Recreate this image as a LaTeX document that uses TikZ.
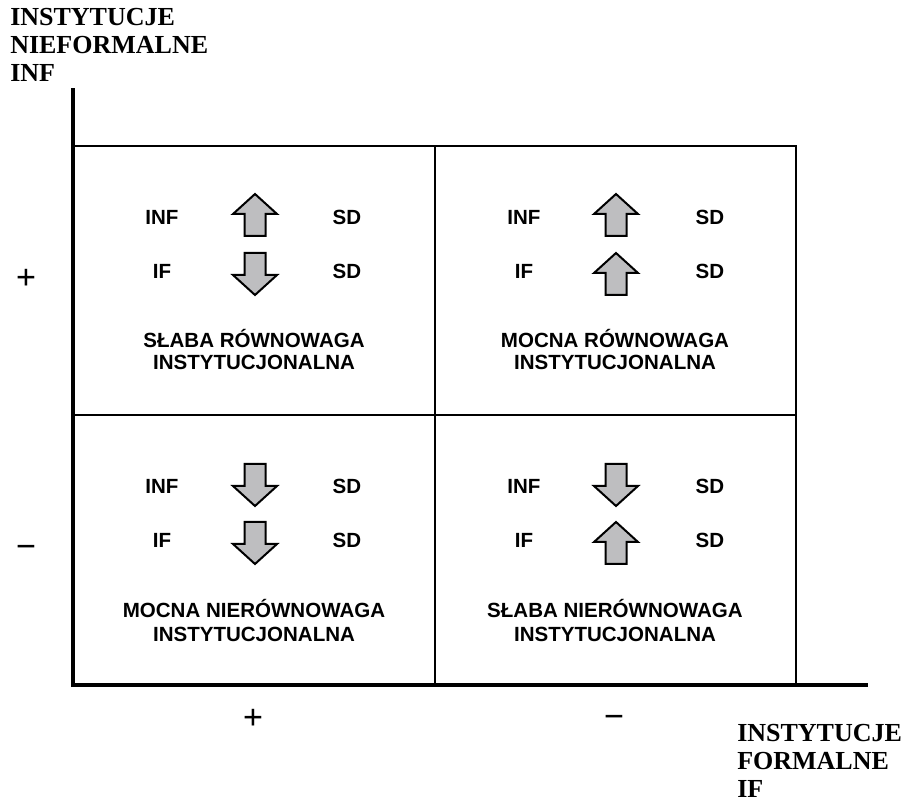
\documentclass[tikz,border=0pt]{standalone}
\usepackage{fontspec}
\setmainfont{Liberation Sans}
\newfontfamily\axisfont{Liberation Serif}

\definecolor{arrowgray}{RGB}{190,190,192}

\tikzset{
  pics/uparr/.style={code={
    \draw[line width=1.5pt, fill=arrowgray]
      (0,-21) -- (22,-1) -- (10.5,-1) -- (10.5,21) -- (-10.5,21) -- (-10.5,-1) -- (-22,-1) -- cycle;}},
  pics/downarr/.style={code={
    \draw[line width=1.5pt, fill=arrowgray]
      (0,21) -- (22,1) -- (10.5,1) -- (10.5,-21) -- (-10.5,-21) -- (-10.5,1) -- (-22,1) -- cycle;}}
}

\begin{document}
\begin{tikzpicture}[x=0.75pt, y=-0.75pt,
    cell/.style={font=\bfseries\fontsize{15.4pt}{16.5pt}\selectfont, inner sep=0pt},
    lab/.style={cell, anchor=base},
    axislab/.style={font=\axisfont\bfseries\fontsize{19.5pt}{21pt}\selectfont, align=left, anchor=north west, inner sep=0pt},
    sign/.style={font=\axisfont\bfseries\fontsize{26.8pt}{30pt}\selectfont, anchor=base, inner sep=0pt}]
    \useasboundingbox (0,0) rectangle (908,802);
    \coordinate (origin) at (73,685);
    \coordinate (ytop) at (73,88);
    \coordinate (xend) at (868,685);
    % grid
    \draw[line width=0.8pt] (73,146) -- (796,146) -- (796,685);
    \draw[line width=1.4pt] (435,146) -- (435,685);
    \draw[line width=1.4pt] (73,415) -- (796,415);
    % Y axis
    \draw[line width=3pt] ([yshift=-1.5pt]origin) -- (ytop);
    % X axis
    \draw[line width=3pt] ([xshift=-1.5pt]origin) -- (xend);
    \node[axislab] (inflab) at (10,8) {INSTYTUCJE\\NIEFORMALNE\\INF};
    \node[axislab] (iflab) at (737,724.5) {INSTYTUCJE\\FORMALNE\\IF};
    \node[sign] (yplus) at (26,290) {+};
    \node[sign] (yminus) at (26,559) {−};
    \node[sign] (xplus) at (253,729) {+};
    \node[sign] (xminus) at (614,728) {−};
    % top left
        \node[cell] (infA) at (162,217) {INF};
        \node[cell] (ifA) at (162,271) {IF};
        \node[cell] (sdA1) at (347,217) {SD};
        \node[cell] (sdA2) at (347,271) {SD};
        \pic at (255,215) {uparr};
        \pic at (255,274) {downarr};
        \node[lab] (labA1) at (254,348) {SŁABA RÓWNOWAGA};
        \node[lab] (labA2) at (254,370) {INSTYTUCJONALNA};
    % top right
        \node[cell] (infB) at (524,217) {INF};
        \node[cell] (ifB) at (524,271) {IF};
        \node[cell] (sdB1) at (710,217) {SD};
        \node[cell] (sdB2) at (710,271) {SD};
        \pic at (616,215) {uparr};
        \pic at (616,274) {uparr};
        \node[lab] (labB1) at (615,348) {MOCNA RÓWNOWAGA};
        \node[lab] (labB2) at (615,370) {INSTYTUCJONALNA};
    % bottom left
        \node[cell] (infC) at (162,486) {INF};
        \node[cell] (ifC) at (162,540) {IF};
        \node[cell] (sdC1) at (347,486) {SD};
        \node[cell] (sdC2) at (347,540) {SD};
        \pic at (255,485) {downarr};
        \pic at (255,543) {downarr};
        \node[lab] (labC1) at (254,618) {MOCNA NIERÓWNOWAGA};
        \node[lab] (labC2) at (254,641) {INSTYTUCJONALNA};
    % bottom right
        \node[cell] (infD) at (524,486) {INF};
        \node[cell] (ifD) at (524,540) {IF};
        \node[cell] (sdD1) at (710,486) {SD};
        \node[cell] (sdD2) at (710,540) {SD};
        \pic at (616,485) {downarr};
        \pic at (616,543) {uparr};
        \node[lab] (labD1) at (615,618) {SŁABA NIERÓWNOWAGA};
        \node[lab] (labD2) at (615,641) {INSTYTUCJONALNA};
\end{tikzpicture}
\end{document}
